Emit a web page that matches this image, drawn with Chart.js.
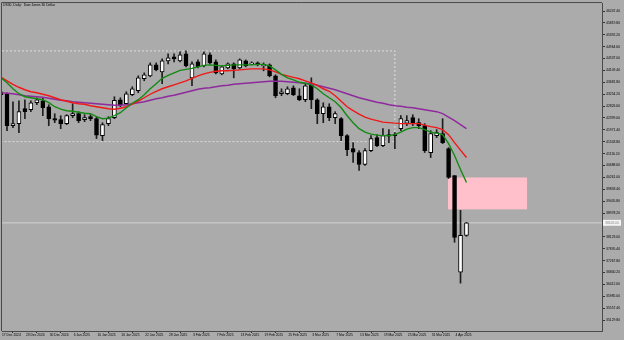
<!DOCTYPE html>
<html><head><meta charset="utf-8">
<script src="https://cdn.jsdelivr.net/npm/chart.js@4.4.1/dist/chart.umd.min.js"></script>
<style>html,body{margin:0;padding:0;background:#ababab;overflow:hidden}canvas{display:block}</style>
</head><body>
<canvas id="c" width="624" height="340" style="width:624px;height:340px"></canvas>
<script>
const title = 'US30, Daily:  Dow Jones 30 Dollar';
const dates = ['17 Dec 2024','18 Dec 2024','19 Dec 2024','20 Dec 2024','23 Dec 2024','24 Dec 2024','26 Dec 2024','27 Dec 2024','30 Dec 2024','31 Dec 2024',
'2 Jan 2025','3 Jan 2025','6 Jan 2025','7 Jan 2025','8 Jan 2025','9 Jan 2025','10 Jan 2025','13 Jan 2025','14 Jan 2025','15 Jan 2025',
'16 Jan 2025','17 Jan 2025','20 Jan 2025','21 Jan 2025','22 Jan 2025','23 Jan 2025','24 Jan 2025','27 Jan 2025','28 Jan 2025','29 Jan 2025',
'30 Jan 2025','31 Jan 2025','3 Feb 2025','4 Feb 2025','5 Feb 2025','6 Feb 2025','7 Feb 2025','10 Feb 2025','11 Feb 2025','12 Feb 2025',
'13 Feb 2025','14 Feb 2025','17 Feb 2025','18 Feb 2025','19 Feb 2025','20 Feb 2025','21 Feb 2025','24 Feb 2025','25 Feb 2025','26 Feb 2025',
'27 Feb 2025','28 Feb 2025','3 Mar 2025','4 Mar 2025','5 Mar 2025','6 Mar 2025','7 Mar 2025','10 Mar 2025','11 Mar 2025','12 Mar 2025',
'13 Mar 2025','14 Mar 2025','17 Mar 2025','18 Mar 2025','19 Mar 2025','20 Mar 2025','21 Mar 2025','24 Mar 2025','25 Mar 2025','26 Mar 2025',
'27 Mar 2025','28 Mar 2025','31 Mar 2025','1 Apr 2025','2 Apr 2025','3 Apr 2025','4 Apr 2025','7 Apr 2025','8 Apr 2025'];
const xTickDates = ['17 Dec 2024','23 Dec 2024','30 Dec 2024','6 Jan 2025','10 Jan 2025','16 Jan 2025','22 Jan 2025','28 Jan 2025','3 Feb 2025','7 Feb 2025',
'13 Feb 2025','19 Feb 2025','25 Feb 2025','3 Mar 2025','7 Mar 2025','13 Mar 2025','19 Mar 2025','25 Mar 2025','31 Mar 2025','4 Apr 2025'];
const yTickValues = [46247.40,45819.80,45392.20,44964.60,44537.00,44109.40,43681.80,43254.20,42826.60,42399.00,41971.40,41543.80,41116.20,40688.60,
40261.00,39833.40,39405.80,38978.20,38550.60,38123.00,37695.40,37267.80,36840.20,36412.60,35985.00,35557.40,35129.80];

const opens = [43342,43271,42123,42195,42733,42697,42948,43020,42804,42374,
42338,42195,42481,42553,42338,42446,42374,41764,42195,42410,
43056,42912,43235,43378,43809,43916,44311,44060,44454,44598,
44454,44705,43844,44418,44275,44669,44418,43988,44203,44346,
44203,44454,44346,44382,44275,44311,43916,43271,43271,43486,
43199,43056,43593,43056,42553,42804,42410,42374,41764,41298,
41155,40724,41226,41693,41406,41746,41800,42015,42213,42410,
42231,42123,41155,41764,41836,41298,40330,36851,38178];
const highs = [43450,43306,42984,43020,43056,43020,43127,43127,42876,42553,
42481,42517,42912,42625,42517,42517,42446,42231,42446,43163,
43127,43342,43522,43916,44024,44382,44382,44526,44705,44705,
44777,44813,44418,44490,44777,44741,44490,44275,44382,44382,
44526,44490,44418,44418,44382,44346,43952,43450,43522,43558,
43450,43629,43844,43091,42948,42912,42625,42410,41800,41513,
41226,41298,41764,41800,42015,41980,41872,42481,42481,42517,
42374,42195,41944,41980,42374,41334,40330,39075,38644];
const lows = [43163,41944,42051,41872,42374,42625,42876,42481,42123,42231,
42015,42159,42410,42231,42266,42302,41657,41585,42123,42374,
42804,42876,43199,43306,43737,43880,44096,43629,44346,44418,
44418,44239,43557,44203,44239,44346,43988,43952,44167,43844,
44167,44239,44311,44275,44096,43880,43127,43199,43235,43199,
43020,42984,42733,42195,42231,42302,42195,41585,41047,40796,
40509,40688,41190,41370,41370,41513,41298,41944,42123,42123,
42015,41155,40975,41693,41477,40222,37927,36457,38142];
const closes = [43235,42123,42195,42625,42625,42948,43056,42768,42374,42320,
42195,42481,42553,42302,42410,42374,41782,42159,42374,43038,
42876,43271,43450,43844,43952,44311,44131,44454,44562,44526,
44669,44275,44346,44239,44705,44382,44024,44239,44346,44167,
44490,44275,44382,44311,44328,43916,43199,43342,43450,43235,
43056,43558,43056,42553,42804,42410,42553,41764,41262,41172,
40724,41226,41657,41406,41764,41800,41764,42374,42302,42195,
42123,41226,41836,41872,41513,40258,38106,38178,38626];

const maFast = [43844,43665,43450,43271,43163,43127,43091,43056,42948,42804,
42715,42661,42643,42607,42571,42553,42446,42374,42392,42481,
42589,42768,42930,43056,43235,43450,43629,43826,43934,44024,
44113,44149,44185,44239,44293,44311,44293,44275,44293,44311,
44311,44311,44311,44328,44328,44275,44131,43970,43844,43773,
43683,43647,43593,43450,43271,43127,42984,42768,42481,42231,
42015,41890,41818,41782,41764,41764,41800,41890,41997,42051,
42051,41980,41890,41854,41800,41477,41047,40545,40079];
const maMid = [43862,43737,43611,43504,43414,43342,43306,43253,43199,43127,
43056,43002,42948,42912,42894,42840,42804,42768,42733,42715,
42751,42804,42894,43002,43127,43253,43360,43450,43522,43593,
43665,43737,43826,43916,43988,44042,44078,44096,44096,44113,
44131,44149,44167,44167,44167,44131,44060,43970,43916,43862,
43809,43737,43665,43575,43450,43360,43199,43002,42804,42661,
42535,42428,42356,42302,42249,42231,42213,42195,42195,42195,
42195,42141,42087,42051,41980,41800,41513,41244,40975];
const maSlow = [43306,43289,43271,43235,43199,43181,43163,43145,43109,43074,
43038,43020,42984,42966,42948,42930,42912,42894,42876,42858,
42858,42876,42912,42948,42984,43038,43091,43127,43181,43217,
43271,43324,43378,43432,43468,43486,43522,43558,43575,43611,
43629,43647,43665,43683,43701,43719,43719,43719,43701,43683,
43665,43647,43629,43575,43522,43468,43414,43342,43271,43199,
43127,43074,43020,42966,42930,42876,42840,42822,42786,42768,
42733,42697,42661,42625,42553,42428,42302,42159,42015];

const lastPrice = closes[closes.length - 1];
const boxBarRange = [0.163, 66];          // dotted range box (bar index)
const boxPriceRange = [44813, 41549];
const zoneBarRange = [74.9, 88.15];       // pink zone (bar index)
const zonePriceRange = [40258, 39111];

const FONT = "'Liberation Sans', Arial, sans-serif";
const X_MIN = 0.163, X_MAX = 100.71;
const Y_MIN = 34735.06, Y_MAX = 46534.31;

const bodyData = opens.map((o, i) => ({x: i, y: [o, closes[i]]}));
const wickData = lows.map((l, i) => ({x: i, y: [l, highs[i]]}));
const lineData = arr => arr.map((v, i) => ({x: i, y: v}));

const decor = {
  id: 'decor',
  beforeDatasetsDraw(chart) {
    const {ctx, scales: {x, y}} = chart;
    const x0 = x.getPixelForValue(zoneBarRange[0]), x1 = x.getPixelForValue(zoneBarRange[1]);
    const y0 = y.getPixelForValue(zonePriceRange[0]), y1 = y.getPixelForValue(zonePriceRange[1]);
    ctx.save();
    ctx.fillStyle = '#ffc0cb';
    ctx.fillRect(x0, y0, x1 - x0, y1 - y0);
    ctx.restore();
  },
  afterDraw(chart) {
    const {ctx, chartArea: a, scales: {y}} = chart;
    ctx.save();
    ctx.strokeStyle = '#4a4a4a';
    ctx.lineWidth = 1;
    ctx.beginPath();
    ctx.moveTo(a.left - 0.5, a.bottom); ctx.lineTo(a.left - 0.5, a.top - 0.5); ctx.lineTo(a.right, a.top - 0.5);
    ctx.stroke();
    ctx.fillStyle = '#000';
    ctx.font = '3.4px ' + FONT;
    ctx.textBaseline = 'middle';
    ctx.textAlign = 'left';
    ctx.fillText(title, a.left + 1, a.top + 2.5);
    const py = y.getPixelForValue(lastPrice);
    ctx.fillStyle = '#f4f4f4';
    ctx.fillRect(a.right + 1, py - 3, 18, 6);
    ctx.fillStyle = '#8a8a8a';
    ctx.fillText(lastPrice.toFixed(2), a.right + 3, py);
    ctx.restore();
  }
};

new Chart(document.getElementById('c'), {
  type: 'bar',
  data: {
    datasets: [
      {type: 'line', data: lineData(maFast), borderColor: '#138a13', borderWidth: 1.4, pointRadius: 0, tension: 0, order: 1},
      {type: 'line', data: lineData(maMid), borderColor: '#f01818', borderWidth: 1.4, pointRadius: 0, tension: 0, order: 1},
      {type: 'line', data: lineData(maSlow), borderColor: '#8e2a9c', borderWidth: 1.4, pointRadius: 0, tension: 0, order: 1},
      {type: 'bar', data: bodyData, grouped: false, barThickness: 4, borderWidth: 1, borderSkipped: false,
        borderColor: '#000',
        backgroundColor: c => closes[c.dataIndex] >= opens[c.dataIndex] ? '#ffffff' : '#000000', order: 2},
      {type: 'bar', data: wickData, grouped: false, barThickness: 1, borderWidth: 0,
        backgroundColor: '#1e1e1e', order: 3},
      {type: 'line', data: [{x: X_MIN, y: lastPrice}, {x: X_MAX, y: lastPrice}], borderColor: '#d2d2d2', borderWidth: 1, pointRadius: 0, order: 8},
      {type: 'line', data: [{x: boxBarRange[0], y: boxPriceRange[0]}, {x: boxBarRange[1], y: boxPriceRange[0]},
                            {x: boxBarRange[1], y: boxPriceRange[1]}, {x: boxBarRange[0], y: boxPriceRange[1]}],
        borderColor: '#dedede', borderWidth: 1, borderDash: [2, 2], pointRadius: 0, order: 9}
    ]
  },
  options: {
    responsive: false, animation: false, devicePixelRatio: 1, events: [],
    layout: {padding: {left: 2, top: 2, right: 0, bottom: 0}},
    plugins: {legend: {display: false}, tooltip: {enabled: false}, title: {display: false}},
    scales: {
      x: {
        type: 'linear', min: X_MIN, max: X_MAX, offset: false,
        afterBuildTicks: s => { s.ticks = xTickDates.map(d => ({value: dates.indexOf(d)})); },
        afterFit: s => { s.height = 9; },
        ticks: {autoSkip: false, maxRotation: 0, minRotation: 0, align: 'start', padding: 0, labelOffset: 1,
          color: '#000', font: {family: FONT, size: 3.3},
          callback: v => dates[Math.round(v)]},
        grid: {display: true, drawOnChartArea: false, drawTicks: true, tickLength: 2, color: '#333'},
        border: {display: true, color: '#4a4a4a'}
      },
      y: {
        type: 'linear', position: 'right', min: Y_MIN, max: Y_MAX,
        afterBuildTicks: s => { s.ticks = yTickValues.map(v => ({value: v})); },
        afterFit: s => { s.width = 22; },
        ticks: {autoSkip: false, padding: 1, color: '#000', font: {family: FONT, size: 3.4},
          callback: v => Number(v).toFixed(2)},
        grid: {display: true, drawOnChartArea: false, drawTicks: true, tickLength: 3, color: '#333'},
        border: {display: true, color: '#4a4a4a'}
      }
    }
  },
  plugins: [decor]
});
</script>
</body></html>
